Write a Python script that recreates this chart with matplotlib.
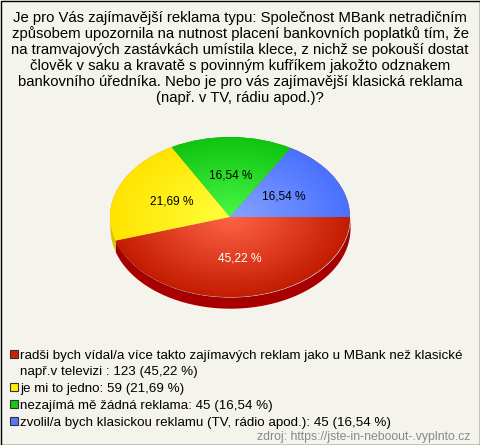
import numpy as np
import matplotlib
matplotlib.use("Agg")
import matplotlib.pyplot as plt
from matplotlib.patches import Rectangle
from matplotlib.colors import LinearSegmentedColormap

plt.rcParams['font.family'] = ['Liberation Sans', 'DejaVu Sans']

title = ("Je pro Vás zajímavější reklama typu: Společnost MBank netradičním\n"
         "způsobem upozornila na nutnost placení bankovních poplatků tím, že\n"
         "na tramvajových zastávkách umístila klece, z nichž se pokouší dostat\n"
         "člověk v saku a kravatě s povinným kufříkem jakožto odznakem\n"
         "bankovního úředníka. Nebo je pro vás zajímavější klasická reklama\n"
         "(např. v TV, rádiu apod.)?")
labels = ["radši bych vídal/a více takto zajímavých reklam jako u MBank než klasické\nnapř.v televizi",
          "je mi to jedno",
          "nezajímá mě žádná reklama",
          "zvolil/a bych klasickou reklamu (TV, rádio apod.)"]
seps = [" : ", ": ", ": ", ": "]
counts = [123, 59, 45, 45]
pcts = [45.22, 21.69, 16.54, 16.54]
edge_cols = ['#c41c00', '#ffe400', '#10c410', '#4a70ff']
center_cols = ['#ff6448', '#ffff3c', '#48f848', '#86a4ff']
side_cols = ['#a80000', '#d8c400', '#0a9a0a', '#3050d0']
legend_cols = ['#cc2200', '#ffee00', '#11cc11', '#5577ff']
source = "zdroj: https://jste-in-neboout-.vyplnto.cz"

W, H = 480, 445
fig = plt.figure(figsize=(W / 100, H / 100), dpi=100)
fig.patch.set_facecolor('#f4f3ec')
fig.patches.append(Rectangle((0.5 / W, 0.5 / H), 1 - 1 / W, 1 - 1 / H, transform=fig.transFigure,
                             fill=False, edgecolor='black', linewidth=1))

# title, one line at a time (16 px apart)
for k, line in enumerate(title.split('\n')):
    fig.text(0.5, 1 - (22 + 16 * k) / H, line, ha='center', va='baseline', fontsize=10.7)

# pie axes: rx=120px, ry=80px
rx, ry, depth = 120, 80, 0.14
cx, cy_top = 230, 137
ax = fig.add_axes([(cx - rx) / W, (H - (cy_top + 2.2 * ry)) / H, 2 * rx / W, 2.2 * ry / H])
wedges, texts, autotexts = ax.pie(counts, startangle=0, counterclock=False, radius=1,
                                  autopct=lambda p: ('%.2f %%' % p).replace('.', ','),
                                  pctdistance=0.52, wedgeprops=dict(linewidth=0),
                                  textprops=dict(fontsize=8.6))

# side band (front half only)
bounds = 360 - np.concatenate([[0], np.cumsum(pcts) / 100 * 360])
for i in range(len(counts)):
    a0, a1 = bounds[i + 1], bounds[i]
    for lo, hi in [(a0, a1), (a0 + 360, a1 + 360)]:
        lo2, hi2 = max(lo, 180), min(hi, 360)
        if hi2 > lo2:
            t = np.radians(np.linspace(lo2, hi2, 100))
            ax.fill_between(np.cos(t), np.sin(t) - depth, np.sin(t), color=side_cols[i],
                            linewidth=0, zorder=0)

# radial gradients on top face
yy, xx = np.mgrid[-1:1:300j, -1:1:300j]
rr = np.sqrt(xx ** 2 + yy ** 2)
for w, c0, c1 in zip(wedges, center_cols, edge_cols):
    cmap = LinearSegmentedColormap.from_list('g', [c0, c1])
    im = ax.imshow(rr, cmap=cmap, vmin=0, vmax=1, extent=(-1, 1, -1, 1), origin='lower',
                   interpolation='bilinear', zorder=1, aspect='auto')
    im.set_clip_path(w)
ax.set_xlim(-1, 1)
ax.set_ylim(-1.2, 1)
ax.set_aspect('auto')

for i, t in enumerate(autotexts):
    t.set_zorder(5)
    t.set_color('white' if i == 0 else 'black')

# legend
ys = [354, 387, 404, 421]
for lab, sep, n, p, col, y in zip(labels, seps, counts, pcts, legend_cols, ys):
    fig.patches.append(Rectangle((10 / W, 1 - (y + 4) / H), 8 / W, 8 / H, transform=fig.transFigure,
                                 facecolor=col, edgecolor='#333333', linewidth=0.8))
    txt = "%s%s%d (%s %%)" % (lab, sep, n, ('%.2f' % p).replace('.', ','))
    for k, line in enumerate(txt.split('\n')):
        fig.text(20 / W, 1 - (y + 5 + 16.5 * k) / H, line, ha='left', va='baseline', fontsize=9.6)

fig.text(470 / W, 1 - 440 / H, source, ha='right', va='baseline', fontsize=8.8, color='#888888')

fig.savefig('out.png', dpi=100, facecolor=fig.get_facecolor())
